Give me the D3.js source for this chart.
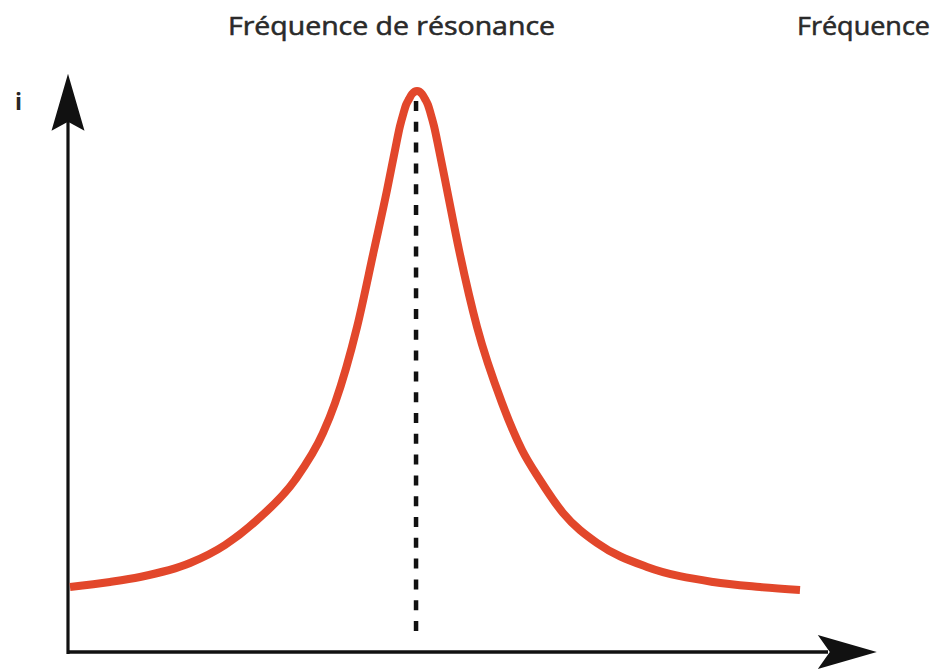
<!DOCTYPE html>
<html>
<head>
<meta charset="utf-8">
<script src="https://cdn.jsdelivr.net/npm/d3@7"></script>
<style>
  html, body { margin: 0; padding: 0; background: #fff; }
  svg { display: block; }
  text { font-family: "Open Sans", "Noto Sans", sans-serif; }
</style>
</head>
<body>
<svg id="chart" width="942" height="670"></svg>
<script>
// Resonance curve: current i versus frequency (arbitrary units)
const frequency = [0.25, 5.25, 9.0, 15.25, 19.63, 23.63, 28.38, 31.88, 33.38, 36.13, 38.25, 39.88, 40.88, 41.5, 41.94, 42.25, 42.63, 43.0, 43.63, 44.25, 44.63, 45.0, 45.31, 45.75, 46.38, 47.38, 48.88, 51.13, 54.25, 56.75, 59.0, 61.88, 66.13, 72.38, 80.63, 86.5, 91.5];
const current   = [11.21, 12.07, 12.93, 15.34, 18.45, 22.76, 29.66, 37.76, 42.93, 56.03, 69.31, 79.66, 86.55, 90.69, 92.93, 94.31, 95.34, 96.21, 96.72, 96.21, 95.34, 94.31, 92.93, 90.69, 86.55, 79.66, 69.31, 56.03, 42.93, 34.83, 29.66, 23.97, 18.79, 14.66, 12.07, 11.21, 10.69];
const resonanceFrequency = 43.63;
const resonanceCurrent = 96.72;
const titleLabel = "Fréquence de résonance";
const xAxisLabel = "Fréquence";
const yAxisLabel = "i";

const svg = d3.select("#chart");

const x = d3.scaleLinear().domain([0, 100]).range([68, 868]);
const y = d3.scaleLinear().domain([0, 100]).range([652, 72]);

const pts = frequency.map((f, k) => [f, current[k]]);

// Axes: bare domain lines, no ticks
const xAxis = svg.append("g")
  .attr("transform", `translate(0,${y(0)})`)
  .call(d3.axisBottom(x).tickValues([]).tickSizeOuter(0));
xAxis.select(".domain").attr("d", `M${x(0)},0H${x(95)}`)
  .attr("stroke", "#111").attr("stroke-width", 3.5);

const yAxis = svg.append("g")
  .attr("transform", `translate(${x(0)},0)`)
  .call(d3.axisLeft(y).tickValues([]).tickSizeOuter(0));
yAxis.select(".domain").attr("d", `M0,${y(0) + 2}V${y(92)}`)
  .attr("stroke", "#111").attr("stroke-width", 3.2);

// Arrow heads
const xTip = x(101.1), xy = y(0);
svg.append("path")
  .attr("d", `M${xTip},${xy} L${xTip - 59},${xy - 17} L${xTip - 47},${xy} L${xTip - 59},${xy + 17} Z`)
  .attr("fill", "#111");
const yTip = y(99.7), yx = x(0);
svg.append("path")
  .attr("d", `M${yx},${yTip} L${yx - 16.5},${yTip + 57} L${yx},${yTip + 48} L${yx + 16.5},${yTip + 57} Z`)
  .attr("fill", "#111");

// Dashed line at the resonance frequency
svg.append("line")
  .attr("x1", x(resonanceFrequency) - 1).attr("x2", x(resonanceFrequency) - 1)
  .attr("y1", y(resonanceCurrent) + 10).attr("y2", y(2))
  .attr("stroke", "#111")
  .attr("stroke-width", 4.5)
  .attr("stroke-dasharray", "10 10.8");

// Resonance curve
const line = d3.line()
  .x(d => x(d[0]))
  .y(d => y(d[1]))
  .curve(d3.curveMonotoneX);

svg.append("path")
  .datum(pts)
  .attr("d", line)
  .attr("fill", "none")
  .attr("stroke", "#e2472b")
  .attr("stroke-width", 8)
  .attr("stroke-linecap", "butt")
  .attr("stroke-linejoin", "round");

// Labels
const labelStyle = sel => sel
  .attr("font-size", 25)
  .attr("fill", "#2a2a2a")
  .attr("stroke", "#2a2a2a")
  .attr("stroke-width", 0.55)
  .attr("lengthAdjust", "spacingAndGlyphs");

svg.append("text")
  .attr("x", 228).attr("y", 35)
  .attr("textLength", 327)
  .call(labelStyle)
  .text(titleLabel);

svg.append("text")
  .attr("x", 797).attr("y", 35)
  .attr("textLength", 133)
  .call(labelStyle)
  .text(xAxisLabel);

svg.append("text")
  .attr("x", 15).attr("y", 110)
  .attr("font-size", 23)
  .attr("font-weight", 700)
  .attr("fill", "#262626")
  .text(yAxisLabel);
</script>
</body>
</html>
